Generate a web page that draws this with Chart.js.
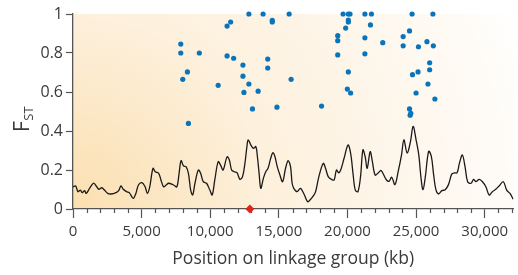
<!DOCTYPE html>
<html><head><meta charset="utf-8">
<script src="https://cdn.jsdelivr.net/npm/chart.js@4"></script>
<style>html,body{margin:0;padding:0;background:#fff;}#wrap{width:518px;height:275px;}</style>
</head><body><div id="wrap"><canvas id="c" width="518" height="275"></canvas></div>
<script>
// Smoothed FST curve (position in kb, FST)
const lineX = [0,195,361,535,679,845,968,1207,1496,1691,
1879,2095,2290,2529,2774,3136,3324,3497,3663,3902,
4097,4386,4581,4769,5014,5253,5419,5592,5831,5997,
6243,6409,6604,6792,6965,7326,7565,7731,7876,8049,
8237,8410,8576,8721,8887,9133,9299,9494,9733,9971,
10144,10332,10578,10744,10939,11228,11394,11560,11755,11950,
12167,12355,12528,12673,12767,12962,13150,13323,13439,13562,
13685,13872,14046,14212,14407,14573,14718,14884,15079,15274,
15490,15678,15852,15968,16091,16329,16575,16864,17102,17268,
17514,17680,17918,18236,18403,18598,18836,19031,19197,19363,
19508,19754,20043,20230,20404,20570,20765,20953,21126,21292,
21437,21654,21798,22015,22253,22449,22832,23027,23222,23460,
23699,23944,24111,24349,24595,24783,25000,25195,25361,25506,
25679,25918,26113,26279,26445,26641,26878,27124,27362,27601,
27796,27991,28157,28374,28568,28757,29002,29190,29363,29601,
29840,30086,30324,30563,30809,31047,31358,31603,31842,32080];
const lineY = [.114,.118,.089,.097,.084,.094,.080,.106,.132,.118,
.101,.109,.097,.080,.077,.084,.094,.118,.101,.089,
.084,.055,.080,.123,.135,.114,.080,.114,.209,.191,
.183,.149,.114,.123,.132,.123,.114,.183,.248,.221,
.217,.183,.097,.072,.132,.200,.183,.140,.132,.097,
.072,.149,.243,.226,.200,.268,.251,.200,.191,.186,
.152,.166,.234,.320,.354,.328,.311,.320,.268,.183,
.106,.157,.191,.209,.260,.289,.268,.217,.174,.140,
.209,.248,.217,.132,.106,.089,.106,.072,.037,.046,
.067,.089,.166,.234,.209,.166,.152,.149,.200,.186,
.200,.260,.328,.286,.183,.097,.089,.166,.303,.268,
.209,.294,.251,.174,.186,.197,.150,.142,.163,.125,
.193,.279,.355,.287,.347,.424,.355,.279,.159,.099,
.168,.296,.270,.176,.099,.077,.094,.099,.125,.179,
.185,.186,.234,.277,.217,.140,.132,.152,.140,.152,
.140,.114,.072,.089,.101,.118,.140,.097,.080,.050];
// Outlier SNPs
const snpX = [12817,13851,14522,14522,15751,11488,11228,7854,7854,9205,
11228,11705,14190,12384,14190,8338,12384,7998,15895,12817,
10578,12456,13490,18113,14862,13078,8410,19291,19291,19291,
19681,20064,20187,20064,20064,19869,21271,21748,21676,21271,
22571,21271,20064,19992,20230,24710,26227,24523,24060,24060,
25173,25794,26257,25990,25990,25144,24739,25866,25000,26372,
24523,24616,24566];
const snpY = [1,1,0.968,0.959,1,0.959,0.938,0.846,0.8,0.8,
0.785,0.773,0.769,0.738,0.723,0.703,0.681,0.665,0.665,0.641,
0.634,0.598,0.604,0.528,0.522,0.513,0.439,0.889,0.863,0.790,
1,1,1,0.969,0.959,0.928,1,1,0.944,0.878,
0.853,0.796,0.703,0.615,0.595,1,1,0.913,0.884,0.837,
0.832,0.858,0.837,0.750,0.714,0.703,0.689,0.641,0.595,0.564,
0.513,0.491,0.481];
// Marker (red diamond)
const markerX = [12890];
const markerY = [0];
// Axis ticks
const xTickValues = [0,5000,10000,15000,20000,25000,30000];
const xMinorTickValues = [1000,2000,3000,4000,6000,7000,8000,9000,11000,12000,13000,14000,16000,17000,18000,19000,21000,22000,23000,24000,26000,27000,28000,29000,31000,32000];
const yTickValues = [0,0.2,0.4,0.6,0.8,1];
const yTickLabels = ['0','0.2','0.4','0.6','0.8','1'];

const FAM = "'Open Sans', sans-serif";
const TXT = '#3a3a3a';
const AX = '#555555';

const bgPlugin = {
  id: 'bg',
  beforeDraw(chart) {
    const {ctx, chartArea: a} = chart;
    const r = (a.right - a.left) * 1.1;
    const g = ctx.createRadialGradient(a.left, a.bottom, 0, a.left, a.bottom, r);
    g.addColorStop(0, '#fbdfb0');
    g.addColorStop(0.4, '#fdf0dc');
    g.addColorStop(0.85, '#fefaf4');
    g.addColorStop(1, '#ffffff');
    ctx.save();
    ctx.fillStyle = g;
    ctx.fillRect(a.left, a.top, a.right - a.left, a.bottom - a.top);
    ctx.restore();
  }
};
const minorPlugin = {
  id: 'minor',
  beforeDatasetsDraw(chart) {
    const {ctx, chartArea: a} = chart;
    const xs = chart.scales.x;
    ctx.save();
    ctx.strokeStyle = AX;
    ctx.lineWidth = 1.2;
    ctx.beginPath();
    xMinorTickValues.forEach(v => {
      const px = Math.round(xs.getPixelForValue(v)) + 0.5;
      ctx.moveTo(px, a.bottom);
      ctx.lineTo(px, a.bottom + 4);
    });
    ctx.stroke();
    ctx.restore();
  }
};
const yTitlePlugin = {
  id: 'ytitle',
  afterDraw(chart) {
    const ctx = chart.ctx;
    ctx.save();
    ctx.translate(29, 132);
    ctx.rotate(-Math.PI / 2);
    ctx.fillStyle = TXT;
    ctx.textBaseline = 'alphabetic';
    ctx.textAlign = 'left';
    ctx.font = "21px " + FAM;
    ctx.fillText('F', 0, 0);
    const w = ctx.measureText('F').width;
    ctx.font = "13px " + FAM;
    ctx.fillText('ST', w + 0.5, 4);
    ctx.restore();
  }
};

new Chart(document.getElementById('c'), {
  type: 'scatter',
  data: {
    datasets: [
      {
        data: markerX.map((x, i) => ({x, y: markerY[i]})),
        pointStyle: 'rectRot', pointRadius: 4.5,
        backgroundColor: '#e2231a', borderColor: '#e2231a', borderWidth: 0,
        clip: false
      },
      {
        data: snpX.map((x, i) => ({x, y: snpY[i]})),
        pointRadius: 2.6, backgroundColor: '#0a74bb', borderWidth: 0,
        clip: false
      },
      {
        type: 'line',
        data: lineX.map((x, i) => ({x, y: lineY[i]})),
        borderColor: '#1a1a1a', borderWidth: 1.3, pointRadius: 0,
        tension: 0.35, fill: false
      }
    ]
  },
  options: {
    responsive: false,
    devicePixelRatio: 1,
    animation: false,
    layout: {padding: {top: 14, right: 0, left: 0, bottom: 0}},
    plugins: {legend: {display: false}, tooltip: {enabled: false}},
    scales: {
      x: {
        type: 'linear', min: 0, max: 32100,
        afterBuildTicks: s => { s.ticks = xTickValues.map(v => ({value: v})); },
        afterFit: s => { s.height = 66; },
        grid: {drawOnChartArea: false, drawTicks: true, tickLength: 9, tickColor: AX, tickWidth: 1.2},
        border: {color: AX, width: 1.3},
        ticks: {
          font: {family: FAM, size: 15}, color: TXT, padding: 5,
          maxRotation: 0, autoSkip: false,
          callback: v => new Intl.NumberFormat('en-US').format(v)
        },
        title: {display: true, text: 'Position on linkage group (kb)', color: TXT,
          font: {family: FAM, size: 17.5}, padding: {top: 0, bottom: 5}}
      },
      y: {
        type: 'linear', min: 0, max: 1,
        afterBuildTicks: s => { s.ticks = yTickValues.map(v => ({value: v})); },
        afterFit: s => { s.width = 73; },
        grid: {drawOnChartArea: false, drawTicks: true, tickLength: 7, tickColor: AX, tickWidth: 1.2},
        border: {color: AX, width: 1.3},
        ticks: {
          font: {family: FAM, size: 16}, color: TXT, padding: 3,
          callback: (v, i) => yTickLabels[i]
        }
      }
    }
  },
  plugins: [bgPlugin, minorPlugin, yTitlePlugin]
});
</script></body></html>
